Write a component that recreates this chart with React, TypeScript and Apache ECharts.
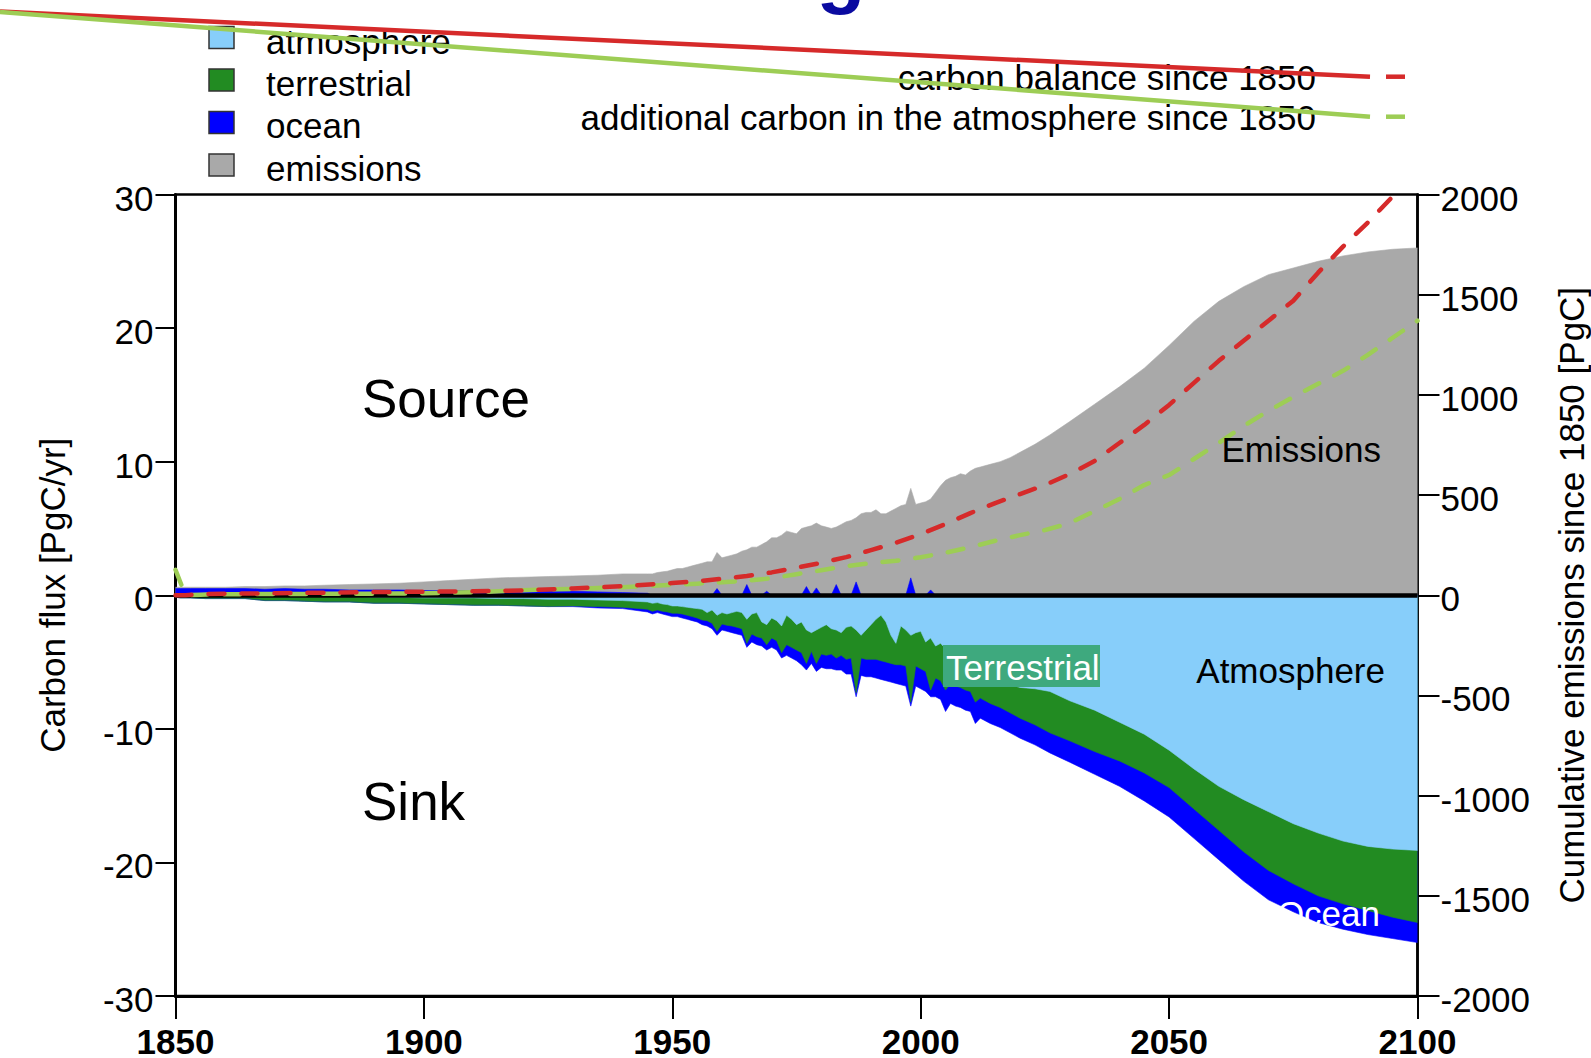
import React, { useEffect, useRef } from "react";
import * as echarts from "echarts";

const FONT = "'Liberation Sans', Arial, Helvetica, sans-serif";

// ---- annual-ish flux data (PgC/yr) ----
const years = [
  1850, 1851, 1853, 1856, 1860, 1864, 1868, 1872, 1876, 1880, 1885, 1890, 1895, 1900, 1905, 1910, 1915, 1920, 1925, 1930, 1935, 1940, 1945,
  1946, 1947, 1948, 1949, 1950, 1951, 1952, 1953, 1954, 1955,
  1956, 1957, 1958, 1959, 1960, 1961, 1962, 1963, 1964, 1965,
  1966, 1967, 1968, 1969, 1970, 1971, 1972, 1973, 1974, 1975,
  1976, 1977, 1978, 1979, 1980, 1981, 1982, 1983, 1984, 1985,
  1986, 1987, 1988, 1989, 1990, 1991, 1992, 1993, 1994, 1995,
  1996, 1997, 1998, 1999, 2000, 2001, 2002, 2003, 2004, 2005,
  2006, 2007, 2008, 2009, 2010, 2011, 2012,
  2014, 2016, 2018, 2020, 2023, 2026, 2030, 2035, 2040, 2045, 2050, 2055, 2060, 2065, 2070, 2075, 2080, 2085, 2090, 2095, 2100,
];

const emissions = [
  0.6, 0.6, 0.6, 0.6, 0.6, 0.65, 0.65, 0.7, 0.7, 0.75, 0.8, 0.85, 0.9, 1.0, 1.1, 1.2, 1.3, 1.35, 1.4, 1.45, 1.5, 1.6, 1.6,
  1.6, 1.7, 1.75, 1.8, 1.9, 2.0, 2.0, 2.1, 2.2, 2.3,
  2.4, 2.5, 2.5, 3.2, 2.8, 2.9, 3.0, 3.1, 3.3, 3.4,
  3.6, 3.6, 3.8, 4.0, 4.3, 4.3, 4.5, 4.8, 4.7, 4.6,
  5.0, 5.1, 5.2, 5.4, 5.2, 5.1, 5.0, 5.1, 5.3, 5.5,
  5.6, 5.8, 6.1, 6.2, 6.2, 6.4, 6.1, 6.1, 6.3, 6.5,
  6.7, 6.8, 8.0, 6.8, 6.9, 7.0, 7.2, 7.7, 8.2, 8.6,
  8.8, 8.9, 9.1, 9.0, 9.3, 9.5, 9.6,
  9.8, 10.0, 10.3, 10.7, 11.3, 12.0, 13.0, 14.3, 15.6, 17.0, 18.7, 20.5, 22.0, 23.1, 24.0, 24.5, 25.0, 25.4, 25.7, 25.9, 26.0,
];

// ocean flux drawn above zero (blue over the grey)
const oceanSource = [
  0.5, 0.5, 0.5, 0.5, 0.5, 0.5, 0.45, 0.5, 0.45, 0.45, 0.4, 0.4, 0.4, 0.35, 0.35, 0.35, 0.35, 0.3, 0.3, 0.3, 0.25, 0.2, 0.15,
  0, 0, 0, 0, 0, 0, 0, 0, 0, 0,
  0, 0, 0, 0.5, 0, 0, 0, 0, 0, 0.8,
  0, 0, 0, 0.3, 0, 0, 0, 0, 0, 0,
  0, 0.65, 0, 0.55, 0, 0, 0, 0.8, 0, 0,
  0, 1.0, 0, 0, 0, 0, 0, 0, 0, 0,
  0, 0, 1.3, 0, 0, 0, 0.4, 0, 0, 0,
  0, 0, 0, 0, 0, 0, 0,
  0, 0, 0, 0, 0, 0, 0, 0, 0, 0, 0, 0, 0, 0, 0, 0, 0, 0, 0, 0, 0,
];

// sinks (negative): atmosphere, terrestrial, ocean — stacked downwards in that order
const atmosphere = [
  -0.05, -0.05, -0.05, -0.05, -0.05, -0.05, -0.1, -0.1, -0.1, -0.1, -0.1, -0.15, -0.15, -0.2, -0.2, -0.2, -0.25, -0.25, -0.3, -0.3, -0.35, -0.4, -0.5,
  -0.6, -0.55, -0.65, -0.7, -0.8, -0.8, -0.85, -0.9, -0.95, -1.0,
  -1.05, -1.3, -1.1, -1.5, -1.3, -1.4, -1.3, -1.2, -1.3, -1.8,
  -1.4, -1.3, -2.0, -2.2, -1.7, -1.9, -2.3, -1.5, -1.8, -2.2,
  -2.0, -2.6, -2.8, -2.6, -2.4, -2.2, -2.5, -2.6, -2.8, -2.4,
  -2.3, -2.6, -3.0, -2.6, -2.2, -1.8, -1.5, -2.0, -3.0, -3.6,
  -2.3, -2.6, -3.0, -2.8, -2.7, -3.5, -3.2, -3.8, -3.6, -4.0,
  -4.5, -4.8, -5.0, -5.3, -5.5, -5.8, -6.0,
  -6.3, -6.5, -6.7, -6.9, -7.0, -7.2, -7.9, -8.6, -9.5, -10.4, -11.6, -13.0, -14.3, -15.3, -16.2, -17.1, -17.8, -18.4, -18.8, -19.0, -19.1,
];

const terrestrial = [
  -0.1, -0.15, -0.15, -0.2, -0.2, -0.2, -0.3, -0.3, -0.35, -0.4, -0.4, -0.45, -0.45, -0.45, -0.5, -0.55, -0.5, -0.55, -0.55, -0.5, -0.5, -0.5, -0.55,
  -0.6, -0.55, -0.55, -0.55, -0.55, -0.55, -0.55, -0.6, -0.65, -0.7,
  -0.8, -0.6, -1.0, -1.2, -0.85, -0.85, -1.0, -1.2, -1.2, -1.8,
  -1.5, -1.8, -1.2, -1.5, -1.5, -1.5, -2.0, -2.2, -2.1, -1.9,
  -2.3, -2.5, -1.4, -2.5, -2.0, -2.3, -1.9, -2.1, -1.7, -2.4,
  -2.4, -4.7, -1.7, -2.2, -2.6, -3.0, -3.4, -3.0, -2.1, -1.6,
  -2.9, -2.7, -5.0, -2.5, -2.8, -2.2, -3.9, -2.4, -2.8, -3.1,
  -2.1, -2.0, -1.9, -1.8, -1.7, -2.2, -1.7,
  -1.8, -1.9, -2.1, -2.3, -2.7, -3.1, -3.0, -3.1, -2.9, -2.9, -2.8, -3.0, -3.3, -3.9, -4.4, -4.5, -4.7, -4.7, -4.8, -5.1, -5.4,
];

const ocean = [
  0, 0, 0, 0, 0, 0, 0, 0, 0, 0, 0, 0, 0, 0, 0, 0, 0, 0, 0, -0.05, -0.1, -0.1, -0.2,
  -0.2, -0.2, -0.2, -0.25, -0.25, -0.25, -0.3, -0.3, -0.3, -0.3,
  -0.35, -0.4, -0.4, -0.3, -0.45, -0.45, -0.5, -0.5, -0.5, -0.3,
  -0.6, -0.6, -0.6, -0.4, -0.7, -0.7, -0.4, -0.8, -0.8, -0.8,
  -0.9, -0.5, -0.9, -0.6, -1.0, -1.0, -1.1, -0.9, -1.1, -1.1,
  -1.2, -0.3, -1.3, -1.3, -1.3, -1.4, -1.4, -1.4, -1.4, -1.4,
  -1.5, -1.5, -0.3, -1.5, -1.5, -1.5, -0.5, -1.4, -1.4, -1.6,
  -1.5, -1.5, -1.5, -1.5, -1.5, -1.6, -1.5,
  -1.5, -1.5, -1.5, -1.5, -1.5, -1.5, -1.6, -1.7, -1.9, -2.1, -2.2, -2.2, -2.2, -2.2, -2.2, -2.1, -2.0, -1.9, -1.8, -1.6, -1.5,
];

// ---- cumulative since 1850 (PgC), right axis ----
const cumYears = [
  1850, 1852, 1855, 1860, 1870, 1880, 1890, 1900, 1910, 1920, 1930, 1940,
  1950, 1955, 1960, 1965, 1970, 1975, 1980, 1985, 1990, 1995,
  2000, 2005, 2010, 2015, 2020, 2025, 2030, 2035, 2040, 2045,
  2050, 2055, 2060, 2065, 2070, 2075, 2080, 2085, 2090, 2095, 2100,
];
const carbonBalance = [
  0, 0, 5, 8, 10, 13, 16, 18, 20, 24, 34, 45,
  61, 70, 82, 96, 114, 138, 162, 190, 225, 262,
  305, 355, 410, 460, 505, 550, 605, 670, 760, 850,
  950, 1060, 1170, 1270, 1370, 1470, 1610, 1740, 1860, 1990, 2130,
];
const atmosphereIncrease = [
  127, 0, 3, 5, 6, 7, 8, 10, 15, 25, 32, 40,
  52, 58, 65, 72, 85, 105, 125, 145, 160, 172,
  190, 212, 240, 272, 300, 325, 360, 420, 480, 550,
  600, 680, 760, 845, 920, 990, 1055, 1120, 1200, 1285, 1370,
];

const legendNames = ["atmosphere", "terrestrial", "ocean", "emissions"];
const COLORS = {
  atmosphere: "#87cefa",
  terrestrial: "#228b22",
  ocean: "#0000ff",
  emissions: "#a9a9a9",
  red: "#d62a2a",
  green: "#9dcd55",
};
const legendColors = [COLORS.atmosphere, COLORS.terrestrial, COLORS.ocean, COLORS.emissions];

export default function App() {
  const ref = useRef<HTMLDivElement>(null);

  useEffect(() => {
    if (!ref.current) return;
    const chart = echarts.init(ref.current, null, { renderer: "svg" });
    const pair = (xs: number[], ys: number[]) => xs.map((x, i) => [x, ys[i]]);

    // stacked boundaries of the sink bands (built from the flux arrays)
    const terrBottom = atmosphere.map((a, i) => +(a + terrestrial[i]).toFixed(3));
    const oceanBottom = terrBottom.map((t, i) => +(t + ocean[i]).toFixed(3));

    const area = (name: string, values: number[], color: string, z: number) => ({
      name,
      type: "line",
      data: pair(years, values),
      symbol: "none",
      showSymbol: false,
      lineStyle: { width: 0.6, color },
      areaStyle: { color, opacity: 1, origin: 0 },
      z,
      silent: true,
      emphasis: { disabled: true },
    });

    const dashed = (name: string, values: number[], color: string) => ({
      name,
      type: "line",
      yAxisIndex: 1,
      data: pair(cumYears, values),
      symbol: "none",
      showSymbol: false,
      lineStyle: { width: 4.5, color, type: [16, 17], cap: "round", join: "round" },
      z: 6,
      silent: true,
      emphasis: { disabled: true },
    });

    const txt = (text: string, x: number, y: number, size: number, fill: string, align = "left") => ({
      type: "text",
      x,
      y,
      z: 100,
      style: { text, fontSize: size, fontFamily: FONT, fill, align, verticalAlign: "middle" },
    });

    const graphic: any[] = [
      {
        type: "text",
        x: 841,
        y: -30,
        style: {
          text: "g",
          fontSize: 80,
          fontWeight: "bold",
          fontFamily: FONT,
          fill: "#0a0aa0",
          align: "center",
          verticalAlign: "middle",
        },
      },
      ...legendNames.map((n, i) => ({
        type: "rect",
        shape: { x: 209, y: 26.5 + i * 42.5, width: 25, height: 22 },
        style: { fill: legendColors[i], stroke: "#333", lineWidth: 1.5 },
        z: 100,
      })),
      ...legendNames.map((n, i) => txt(n, 266, 41 + i * 42.4, 35, "#000")),
      txt("carbon balance since 1850", 1316, 77, 35, "#000", "right"),
      txt("additional carbon in the atmosphere since 1850", 1316, 117, 35, "#000", "right"),
      { type: "line", z: 110, shape: { x1: 0, y1: 11.5, x2: 1370, y2: 76.7 }, style: { stroke: COLORS.red, lineWidth: 4.5 } },
      { type: "line", z: 110, shape: { x1: 1386, y1: 76.7, x2: 1405, y2: 76.7 }, style: { stroke: COLORS.red, lineWidth: 4.5 } },
      { type: "line", z: 110, shape: { x1: 0, y1: 12, x2: 1370, y2: 116.7 }, style: { stroke: COLORS.green, lineWidth: 4.5 } },
      { type: "line", z: 110, shape: { x1: 1386, y1: 116.7, x2: 1405, y2: 116.7 }, style: { stroke: COLORS.green, lineWidth: 4.5 } },
      txt("Source", 362, 398, 53, "#000"),
      txt("Sink", 362, 801, 53, "#000"),
      txt("Emissions", 1381, 449, 35, "#000", "right"),
      txt("Atmosphere", 1385, 670, 35, "#000", "right"),
      txt("Ocean", 1380, 913, 35, "#fff", "right"),
      { type: "rect", z: 99, shape: { x: 943, y: 645, width: 157, height: 42 }, style: { fill: "#3ea97e" } },
      txt("Terrestrial", 946, 667, 35, "#fff"),
    ];

    const plain = (v: number) => String(v);
    const yLabel = (margin: number) => ({
      color: "#000",
      fontSize: 35,
      fontFamily: FONT,
      margin,
      formatter: plain,
      verticalAlign: "top",
      lineHeight: 7,
    });

    const option: any = {
      animation: false,
      backgroundColor: "#fff",
      textStyle: { fontFamily: FONT },
      grid: {
        left: 175.5,
        right: 173.5,
        top: 194.5,
        bottom: 62,
        show: true,
        borderColor: "#000",
        borderWidth: 2.5,
        backgroundColor: "transparent",
        containLabel: false,
        outerBoundsMode: "none",
      },
      xAxis: {
        type: "value",
        min: 1850,
        max: 2100,
        interval: 50,
        axisLine: { show: true, onZero: false, lineStyle: { color: "#000", width: 3 } },
        axisTick: { show: true, length: 23, lineStyle: { color: "#000", width: 2 } },
        axisLabel: { color: "#000", fontSize: 35, fontWeight: "bold", fontFamily: FONT, margin: 28, formatter: plain },
        splitLine: { show: false },
      },
      yAxis: [
        {
          type: "value",
          min: -30,
          max: 30,
          interval: 10,
          name: "Carbon flux [PgC/yr]",
          nameLocation: "middle",
          nameGap: 106,
          nameTextStyle: { color: "#000", fontSize: 35, fontFamily: FONT },
          axisLine: { show: true, onZero: false, lineStyle: { color: "#000", width: 3 } },
          axisTick: { show: true, length: 20, lineStyle: { color: "#000", width: 2 } },
          axisLabel: yLabel(22),
          splitLine: { show: false },
        },
        {
          type: "value",
          position: "right",
          min: -2000,
          max: 2000,
          interval: 500,
          name: "Cumulative emissions since 1850 [PgC]",
          nameLocation: "middle",
          nameGap: 136,
          nameTextStyle: { color: "#000", fontSize: 35, fontFamily: FONT },
          axisLine: { show: true, onZero: false, lineStyle: { color: "#000", width: 2.5 } },
          axisTick: { show: true, length: 22, lineStyle: { color: "#000", width: 2 } },
          axisLabel: yLabel(23),
          splitLine: { show: false },
        },
      ],
      series: [
        area("emissions", emissions, COLORS.emissions, 1),
        area("ocean source", oceanSource, COLORS.ocean, 2),
        area("ocean", oceanBottom, COLORS.ocean, 2),
        area("terrestrial", terrBottom, COLORS.terrestrial, 2),
        {
          ...area("atmosphere", atmosphere, COLORS.atmosphere, 2),
          markLine: {
            silent: true,
            symbol: ["none", "none"],
            label: { show: false },
            lineStyle: { color: "#000", width: 4.5, type: "solid" },
            data: [{ yAxis: 0 }],
          },
        },
        dashed("additional carbon in the atmosphere since 1850", atmosphereIncrease, COLORS.green),
        dashed("carbon balance since 1850", carbonBalance, COLORS.red),
      ],
      graphic,
    };

    chart.setOption(option);
    return () => chart.dispose();
  }, []);

  return (
    <div
      ref={ref}
      style={{ position: "fixed", left: 0, top: 0, width: 1591, height: 1058, background: "#fff" }}
    />
  );
}
